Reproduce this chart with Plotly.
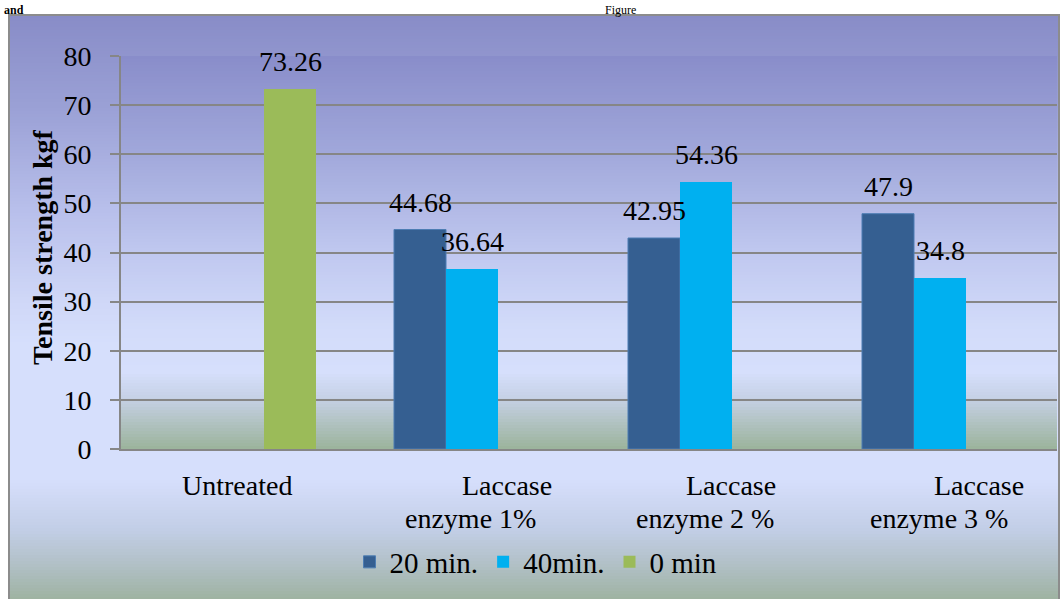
import plotly.graph_objects as go

# ---- data ----
categories = ["Untreated", "Laccase enzyme 1%", "Laccase enzyme 2 %", "Laccase enzyme 3 %"]
series_names = ["20 min.", "40min.", "0 min"]
values_20min = [None, 44.68, 42.95, 47.9]
values_40min = [None, 36.64, 54.36, 34.8]
values_0min = [73.26, None, None, None]
y_tick_values = [0, 10, 20, 30, 40, 50, 60, 70, 80]

series_values = [values_20min, values_40min, values_0min]
series_colors = ["#355f91", "#00b0f0", "#9bbb59"]

# ---- layout geometry (pixels) ----
W, H = 1061, 599
M_L, M_R, M_T, M_B = 121, 4, 56, 150
PW = W - M_L - M_R
PH = H - M_T - M_B
BARGAP = 1 / 3
FONT = "Liberation Serif"
GRID = "#868686"


def px_x(x):
    return (x - M_L) / PW


def px_y(y):
    return (H - M_B - y) / PH


def hex_rgb(h):
    h = h.lstrip("#")
    return tuple(int(h[i:i + 2], 16) for i in (0, 2, 4))


def gradient_color(stops, y):
    if y <= stops[0][0]:
        return stops[0][1]
    for (y0, c0), (y1, c1) in zip(stops, stops[1:]):
        if y0 <= y <= y1:
            t = (y - y0) / (y1 - y0)
            a, b = hex_rgb(c0), hex_rgb(c1)
            return "rgb(%d,%d,%d)" % tuple(round(a[k] + (b[k] - a[k]) * t) for k in range(3))
    return stops[-1][1]


def gradient_strips(x0, x1, y_top, y_bot, stops, step=3):
    out = []
    y = y_top
    while y < y_bot:
        yb = min(y + step, y_bot)
        out.append(dict(
            type="rect", xref="paper", yref="paper", layer="below",
            x0=px_x(x0), x1=px_x(x1), y0=px_y(min(yb + 0.6, y_bot)), y1=px_y(y),
            fillcolor=gradient_color(stops, (y + yb) / 2), line=dict(width=0),
        ))
        y = yb
    return out


outer_stops = [
    (15, "#888cc7"), (110, "#9ba1d6"), (210, "#b8bfeb"), (300, "#cfd7f7"),
    (345, "#d6dffc"), (480, "#d6dffc"), (530, "#c2cee6"), (565, "#b1c0c6"), (605, "#9bb09b"),
]
plot_stops = [
    (56, "#898dca"), (150, "#a0a7da"), (250, "#bfc7ef"), (330, "#d3dcfa"),
    (372, "#d6dffc"), (398, "#c6d1e6"), (449, "#9bb39b"),
]

shapes = []
shapes += gradient_strips(9, 1059, 15, 620, outer_stops)
shapes += gradient_strips(M_L, W - M_R, M_T, H - M_B, plot_stops)
shapes.append(dict(
    type="rect", xref="paper", yref="paper", layer="below",
    x0=px_x(9), x1=px_x(1059), y0=px_y(640), y1=px_y(15),
    fillcolor="rgba(0,0,0,0)", line=dict(color="#8c8c8c", width=2),
))

fig = go.Figure()
for name, vals, color in zip(series_names, series_values, series_colors):
    fig.add_trace(go.Bar(
        name=name, x=categories, y=vals, marker_color=color,
        marker_line=dict(width=1 if color == "#355f91" else 0, color="#4d7db3"),
    ))

annotations = []

# value labels above each bar
bar_w = PW / len(categories) * (1 - BARGAP) / len(series_names)
for i, vals in enumerate(series_values):
    for cat, v in zip(categories, vals):
        if v is None:
            continue
        annotations.append(dict(
            x=cat, y=v, xref="x", yref="y", text=f"{v:g}", showarrow=False,
            xanchor="center", yanchor="bottom", xshift=(i - 1) * bar_w, yshift=10,
            font=dict(family=FONT, size=28, color="black"),
        ))

# category labels, two lines each
line1_shift = [-1, 35, 25, 39]
line2_shift = [0, -2, -1, -1]
for cat, s1, s2 in zip(categories, line1_shift, line2_shift):
    parts = cat.split(" ", 1)
    annotations.append(dict(
        x=cat, xref="x", y=px_y(485), yref="paper", text=parts[0], showarrow=False,
        xanchor="center", yanchor="middle", xshift=s1,
        font=dict(family=FONT, size=28, color="black"),
    ))
    if len(parts) > 1:
        annotations.append(dict(
            x=cat, xref="x", y=px_y(518), yref="paper", text=parts[1], showarrow=False,
            xanchor="center", yanchor="middle", xshift=s2,
            font=dict(family=FONT, size=28, color="black"),
        ))

# y-axis title
annotations.append(dict(
    x=px_x(43), y=px_y(247), xref="paper", yref="paper",
    text="<b>Tensile strength kgf</b>", textangle=-90, showarrow=False,
    xanchor="center", yanchor="middle",
    font=dict(family=FONT, size=28, color="black"),
))

# surrounding document text above the chart frame
annotations.append(dict(
    x=px_x(3), y=px_y(2), xref="paper", yref="paper", text="<b>and</b>",
    showarrow=False, xanchor="left", yanchor="top", borderpad=0,
    font=dict(family=FONT, size=12, color="black"),
))
annotations.append(dict(
    x=px_x(620), y=px_y(2), xref="paper", yref="paper", text="Figure",
    showarrow=False, xanchor="center", yanchor="top", borderpad=0,
    font=dict(family=FONT, size=12, color="black"),
))

fig.update_layout(
    width=W, height=H,
    margin=dict(l=M_L, r=M_R, t=M_T, b=M_B, pad=0),
    paper_bgcolor="white", plot_bgcolor="rgba(0,0,0,0)",
    barmode="group", bargap=BARGAP, bargroupgap=0,
    shapes=shapes, annotations=annotations,
    showlegend=True,
    legend=dict(
        orientation="h", x=px_x(536), xanchor="center", y=px_y(562), yanchor="middle",
        bgcolor="rgba(0,0,0,0)", font=dict(family=FONT, size=29, color="black"),
        traceorder="normal",
    ),
    xaxis=dict(
        type="category", range=[-0.5, len(categories) - 0.5],
        showline=True, linecolor=GRID, linewidth=2, showgrid=False,
        showticklabels=False, ticks="", zeroline=False,
    ),
    yaxis=dict(
        range=[0, 80], tickvals=y_tick_values, showgrid=True, gridcolor=GRID, gridwidth=2,
        showline=True, linecolor=GRID, linewidth=2, zeroline=False,
        ticks="outside", ticklen=9, tickwidth=2, tickcolor=GRID,
        tickfont=dict(family=FONT, size=28, color="black"), ticklabelstandoff=13,
    ),
)

fig.write_html("out.html")
